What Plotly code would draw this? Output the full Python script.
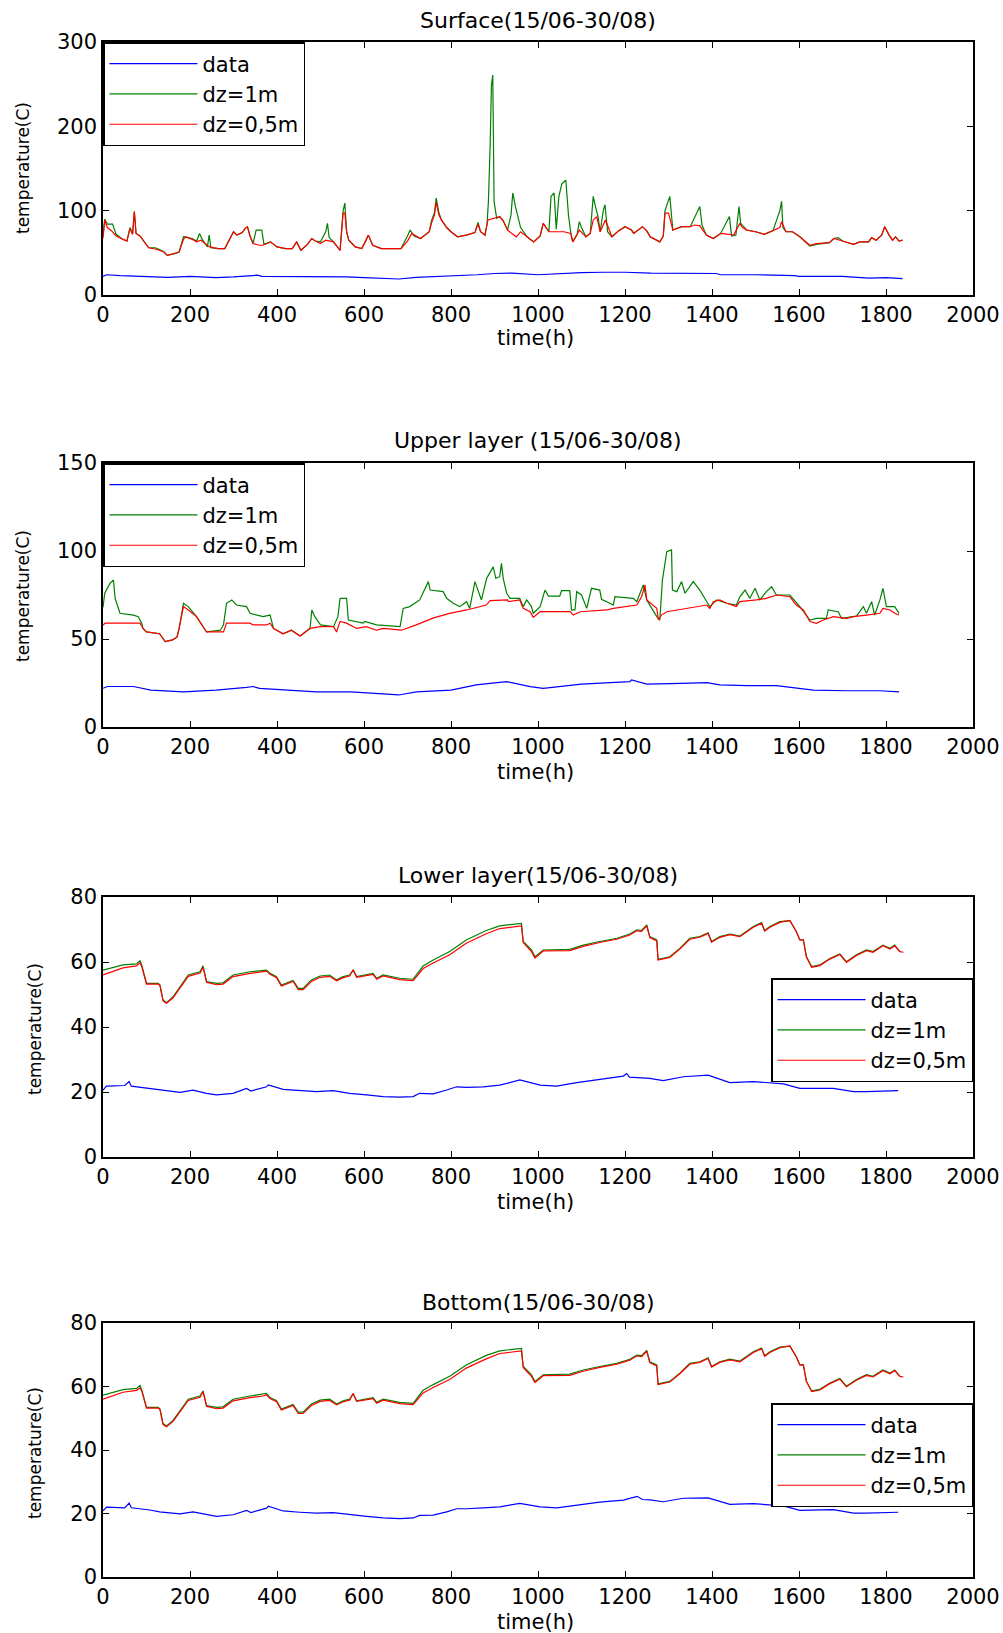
import plotly.graph_objects as go

# ---------------- DATA ----------------
tick_x = [0, 200, 400, 600, 800, 1000, 1200, 1400, 1600, 1800, 2000]
titles = ["Surface(15/06-30/08)", "Upper layer (15/06-30/08)",
          "Lower layer(15/06-30/08)", "Bottom(15/06-30/08)"]
series_names = ["data", "dz=1m", "dz=0,5m"]

# Surface
surf_data_h = [0, 8, 40, 90, 150, 200, 260, 300, 355, 365, 420, 500, 560, 600, 680, 720, 800, 860, 900, 940,
               1000, 1030, 1100, 1150, 1200, 1260, 1350, 1410, 1420, 1500, 1590, 1600, 1700, 1760, 1800, 1838]
surf_data_T = [22, 24, 23, 22, 21, 22, 20.5, 21.5, 23.5, 22, 22, 21.5, 21.5, 20.5, 19, 21, 22.5, 24, 25.5, 26,
               24, 25, 26.5, 27, 27, 26, 26, 25.5, 24, 24, 23, 22, 22, 20, 20.5, 19.5]

surf_dz1_h = [0, 4, 10, 22, 30, 45, 55, 62, 68, 72, 76, 85, 95, 105, 120, 130, 140, 148, 165, 175, 185, 205, 215,
              222, 228, 240, 244, 248, 265, 280, 295, 300, 308, 320, 327, 332, 338, 345, 352, 365, 370, 385, 400,
              420, 435, 445, 455, 470, 480, 488, 500, 512, 516, 520, 530, 545, 552, 556, 560, 565, 580, 595, 605,
              610, 620, 640, 660, 685, 700, 706, 715, 730, 750, 755, 762, 766, 772, 778, 790, 800, 815, 835, 855,
              862, 868, 878, 883, 886, 890, 893, 896, 899, 905, 912, 920, 930, 938, 942, 948, 955, 960, 975, 990,
              1005, 1012, 1025, 1030, 1037, 1042, 1048, 1055, 1064, 1070, 1075, 1080, 1090, 1095, 1100, 1110, 1120,
              1127, 1132, 1138, 1143, 1150, 1154, 1160, 1170, 1185, 1200, 1215, 1220, 1240, 1250, 1258, 1280, 1288,
              1292, 1303, 1310, 1330, 1350, 1362, 1367, 1372, 1377, 1387, 1403, 1420, 1440, 1445, 1455, 1462, 1466,
              1480, 1500, 1520, 1540, 1556, 1560, 1563, 1570, 1585, 1602, 1625, 1640, 1670, 1680, 1690, 1700, 1725,
              1740, 1760, 1767, 1777, 1790, 1797, 1807, 1815, 1822, 1830, 1838]
surf_dz1_T = [70, 90, 84, 84, 72, 66, 64, 80, 72, 99, 73, 70, 63, 56, 56, 54, 51, 47, 49, 51, 69, 67, 64,
              73, 66, 57, 71, 56, 55, 55, 70, 75, 71, 74, 79, 81, 70, 61, 77, 77, 60, 63, 57,
              55, 55, 63, 53, 60, 67, 64, 63, 75, 85, 68, 63, 53, 100, 109, 75, 65, 57, 55, 65,
              71, 59, 55, 55, 55, 70, 77, 70, 67, 75, 88, 98, 115, 98, 89, 80, 75, 69, 71, 74,
              86, 75, 71, 85, 111, 178, 249, 261, 111, 91, 93, 88, 77, 95, 121, 105, 91, 80, 69, 63,
              70, 85, 75, 117, 121, 78, 117, 132, 136, 95, 75, 63, 72, 87, 80, 69, 73,
              117, 105, 93, 75, 100, 107, 75, 69, 76, 81, 77, 73, 81, 76, 69, 63, 70,
              100, 117, 77, 81, 81, 95, 100, 105, 83, 71, 67, 73, 93, 70, 71, 105, 85,
              77, 75, 72, 76, 100, 111, 80, 75, 75, 69, 58, 60, 62, 67, 68, 64, 60,
              63, 63, 68, 65, 71, 81, 71, 65, 69, 64, 65]

surf_dz05_h = [0, 4, 10, 20, 30, 45, 55, 62, 68, 72, 76, 85, 95, 105, 125, 140, 148, 165, 175, 185, 190, 205, 215,
               225, 245, 265, 280, 295, 300, 308, 320, 327, 332, 338, 345, 360, 368, 385, 400, 420, 435, 445, 455,
               470, 480, 488, 500, 512, 530, 545, 552, 556, 560, 565, 580, 595, 605, 610, 620, 640, 660, 685, 700,
               710, 720, 730, 750, 755, 762, 766, 772, 778, 790, 800, 815, 835, 855, 862, 868, 878, 885, 900, 912,
               920, 930, 940, 950, 960, 975, 990, 1005, 1012, 1025, 1040, 1060, 1075, 1080, 1090, 1095, 1110, 1120,
               1127, 1135, 1143, 1155, 1170, 1185, 1200, 1215, 1220, 1240, 1250, 1258, 1280, 1288, 1292, 1300, 1310,
               1330, 1350, 1360, 1372, 1387, 1403, 1420, 1438, 1450, 1464, 1470, 1480, 1500, 1520, 1540, 1556, 1560,
               1570, 1585, 1602, 1625, 1640, 1670, 1680, 1700, 1725, 1740, 1760, 1767, 1777, 1790, 1797, 1807, 1815,
               1822, 1830, 1838]
surf_dz05_T = [67, 89, 80, 76, 70, 66, 64, 79, 72, 99, 73, 70, 63, 56, 54, 51, 47, 49, 51, 66, 69, 66, 63,
               65, 57, 55, 55, 70, 75, 71, 74, 79, 81, 70, 61, 59, 59, 63, 57, 55, 55, 63, 53,
               60, 67, 64, 61, 65, 63, 53, 97, 97, 75, 65, 57, 55, 65, 71, 59, 55, 55, 55, 64,
               73, 70, 67, 75, 85, 95, 110, 95, 89, 80, 75, 69, 71, 74, 84, 75, 71, 89, 91, 93,
               88, 77, 73, 69, 75, 69, 63, 70, 85, 75, 75, 75, 73, 63, 72, 77, 69, 73,
               89, 93, 75, 89, 69, 76, 81, 77, 73, 81, 76, 69, 63, 70, 97, 97, 77,
               81, 81, 83, 82, 71, 67, 73, 72, 71, 85, 80, 77, 75, 72, 76, 80, 87,
               75, 75, 69, 59, 61, 62, 67, 64, 60, 63, 63, 68, 65, 71, 81, 71, 65,
               69, 64, 65]

# Upper layer
up_data_h = [0, 10, 70, 110, 185, 260, 330, 345, 360, 414, 490, 570, 640, 680, 720, 800, 858, 900, 928, 982,
             1012, 1100, 1211, 1215, 1250, 1330, 1388, 1418, 1480, 1548, 1602, 1633, 1710, 1786, 1830]
up_data_T = [22, 23, 23, 21, 20, 21, 22.5, 23, 22, 21, 20, 20, 18.8, 18.2, 20, 21, 23.9, 24.8, 25.8, 22.9,
             22, 24.4, 25.8, 26.7, 24.4, 24.8, 25.2, 23.9, 23.5, 23.5, 22, 21, 20.6, 20.6, 20]

up_dz1_h = [0, 4, 16, 24, 28, 35, 39, 70, 81, 89, 92, 100, 130, 143, 160, 170, 175, 185, 196, 215, 227, 238, 270,
            277, 284, 296, 307, 330, 338, 368, 384, 392, 414, 433, 453, 476, 480, 487, 500, 530, 540, 545, 560,
            564, 598, 602, 629, 683, 690, 705, 728, 748, 752, 782, 790, 805, 820, 836, 843, 855, 870, 882, 897,
            903, 912, 916, 920, 928, 936, 958, 966, 974, 985, 989, 1005, 1016, 1024, 1050, 1054, 1073, 1077, 1085,
            1089, 1100, 1112, 1123, 1142, 1146, 1165, 1173, 1177, 1219, 1227, 1242, 1250, 1273, 1280, 1286, 1296,
            1307, 1309, 1319, 1330, 1338, 1357, 1372, 1388, 1395, 1411, 1434, 1456, 1464, 1476, 1487, 1499, 1510,
            1525, 1537, 1548, 1579, 1602, 1625, 1640, 1663, 1667, 1690, 1698, 1732, 1748, 1755, 1767, 1774, 1786,
            1793, 1801, 1820, 1830]
up_dz1_T = [68, 76, 81.6, 83.5, 73, 68.4, 64.6, 63.6, 62.7, 59, 56, 54, 53, 48.5, 49.5, 51, 56, 70.3, 68.4, 62.7,
            58, 54, 55, 58, 70.3, 72.2, 69.3, 68.4, 64.6, 62.7, 63.6, 56, 53, 55, 51.7, 56, 66.5, 62.7, 58, 57,
            62.7, 73.1, 73.1, 60.8, 59, 60, 58, 57, 67.4, 68.4, 72.2, 82.6, 77.8, 76.9, 73.1, 70.3, 68.4, 71.2,
            67.4, 82.6, 72.2, 84.5, 91, 84.5, 85.4, 93, 84.5, 76, 73.1, 73.1, 68.4, 72.2, 68.4, 64.6, 68.4, 77.8,
            74.4, 74.4, 77.5, 77.5, 66.5, 66.5, 76.9, 75, 67.4, 78.8, 77.8, 72.6, 70.3, 69.3, 74, 73.1, 71.2, 80.7,
            72.2, 62.7, 60.8, 83.5, 99.6, 100.6, 77.8, 76.9, 82.6, 76, 82.6, 77.8, 71.2, 68.4, 72.2, 70.3, 69.3,
            74, 77.8, 73.1, 78.8, 72.2, 76.9, 79.7, 75, 75, 68.4, 60.8, 61.7, 61.7, 66.5, 65.5, 61.7, 63, 68.4,
            64.6, 71.2, 63.6, 72.2, 78.8, 68.4, 68.4, 64.6]

up_dz05_h = [0, 5, 85, 92, 100, 130, 143, 160, 170, 175, 185, 196, 215, 227, 238, 277, 284, 338, 345, 376, 384,
             392, 414, 433, 453, 476, 500, 530, 537, 545, 560, 583, 605, 629, 645, 686, 720, 760, 797, 836, 881,
             890, 930, 932, 958, 966, 982, 989, 1000, 1005, 1074, 1081, 1097, 1158, 1173, 1227, 1238, 1246, 1250,
             1273, 1277, 1284, 1296, 1342, 1388, 1395, 1403, 1418, 1434, 1456, 1464, 1502, 1525, 1548, 1579, 1594,
             1610, 1625, 1640, 1656, 1679, 1709, 1725, 1755, 1786, 1793, 1809, 1820, 1830]
up_dz05_T = [58, 59, 59, 56, 54, 53, 48.5, 49.5, 51, 56, 68.4, 66.5, 62.7, 58, 54, 54, 59, 59, 58, 58, 59,
             56, 53, 55, 51.7, 56, 57, 57, 54, 60, 59, 56, 57, 55, 56, 55, 58, 62, 64.6, 66.5, 69.3,
             71.8, 72.2, 71.2, 72.2, 67.4, 65.5, 62.3, 64.6, 65.5, 65.5, 63.6, 65.5, 66.5, 67.4, 69.3, 74, 80.7, 72.2,
             67.4, 60.8, 63.6, 65.5, 67.4, 69.3, 67.4, 71.2, 72.2, 70.3, 68.4, 71.2, 72.2, 73.1, 75, 74, 69.3,
             66.5, 59.9, 58.9, 60.8, 62.7, 61.7, 62.7, 63.6, 64.6, 67.4, 66.5, 64.6, 63.6]

# Lower layer
low_data_h = [0, 8, 50, 60, 65, 108, 130, 177, 207, 238, 261, 299, 330, 340, 376, 380, 414, 452, 491, 529, 567,
              606, 644, 682, 713, 728, 759, 790, 813, 836, 874, 912, 958, 1005, 1043, 1089, 1142, 1196, 1204, 1210,
              1257, 1288, 1334, 1391, 1441, 1495, 1564, 1602, 1679, 1725, 1755, 1828]
low_data_T = [20.6, 21.8, 22, 23.2, 21.8, 21.1, 20.6, 19.9, 20.6, 19.6, 19.1, 19.6, 21.1, 20.3, 21.6, 22.2, 20.8,
              20.4, 20.1, 20.4, 19.6, 19.1, 18.6, 18.4, 18.6, 19.6, 19.4, 20.6, 21.6, 21.4, 21.6, 22.1, 23.7, 22.1,
              21.8, 22.9, 23.9, 24.9, 25.7, 24.6, 24.2, 23.5, 24.7, 25.2, 22.9, 23.2, 22.5, 21.1, 21.1, 20.1, 20.1,
              20.4]

low_dz1_h = [0, 46, 77, 85, 89, 100, 127, 131, 138, 146, 161, 180, 196, 223, 230, 238, 261, 276, 299, 338, 368,
             376, 384, 399, 410, 437, 449, 460, 479, 499, 521, 537, 552, 567, 575, 583, 621, 629, 644, 682, 713,
             736, 759, 797, 835, 881, 912, 962, 966, 974, 985, 993, 1012, 1073, 1104, 1142, 1181, 1211, 1227, 1238,
             1250, 1257, 1273, 1276, 1303, 1326, 1349, 1372, 1391, 1399, 1418, 1441, 1464, 1495, 1514, 1521, 1533,
             1556, 1579, 1594, 1602, 1610, 1617, 1629, 1648, 1671, 1694, 1709, 1732, 1755, 1770, 1793, 1809, 1820,
             1832]
low_dz1_T = [57.5, 59.1, 59.4, 60.4, 59.1, 53.4, 53.4, 52.9, 48.3, 47.5, 49.3, 52.9, 56, 57, 58.8, 54, 53.4,
             53.6, 56, 57, 57.5, 57.5, 56.5, 55.5, 52.9, 54.3, 51.9, 51.9, 54.5, 55.7, 56, 54.5, 55.5, 56, 57.5,
             55.5, 56.5, 55, 56, 55, 54.7, 58.8, 60.6, 63.2, 66.8, 69.7, 71.1, 71.9, 66.3, 65.2, 63.7, 61.6, 63.7,
             63.9, 65.2, 66.3, 67.3, 68.6, 69.9, 69.7, 71.4, 67.8, 66.8, 60.8, 61.6, 64.2, 67.3, 67.8, 69, 66.3,
             67.8, 68.6, 68, 70.9, 72.1, 69.7, 70.9, 72.4, 72.7, 69.3, 66.8, 66.8, 61.6, 58.6, 59.1, 61.1, 62.5,
             60.1, 62.2, 63.7, 63.2, 65.2, 64.2, 65.2, 63.2]

low_dz05_h = [0, 46, 77, 85, 89, 100, 127, 131, 138, 146, 161, 180, 196, 223, 230, 238, 261, 276, 299, 338, 368,
              376, 384, 399, 410, 437, 449, 460, 479, 499, 521, 537, 552, 567, 575, 583, 621, 629, 644, 682, 713,
              736, 759, 797, 835, 881, 912, 962, 966, 974, 985, 993, 1012, 1073, 1104, 1142, 1181, 1211, 1227, 1238,
              1250, 1257, 1273, 1276, 1303, 1326, 1349, 1372, 1391, 1399, 1418, 1441, 1464, 1495, 1514, 1521, 1533,
              1556, 1579, 1594, 1602, 1610, 1617, 1629, 1648, 1671, 1694, 1709, 1732, 1755, 1770, 1793, 1809, 1820,
              1832, 1840]
low_dz05_T = [56, 58.2, 58.8, 59.8, 58.6, 53.2, 53.2, 52.7, 48, 47.3, 49, 52.5, 55.6, 56.6, 58.4, 53.8, 53, 53.2,
              55.5, 56.5, 57, 57.2, 56.2, 55.2, 52.6, 54, 51.5, 51.5, 54, 55.3, 55.6, 54.2, 55.2, 55.7, 57.6, 55.3,
              56.2, 54.7, 55.7, 54.6, 54.3, 58, 59.7, 62.2, 65.8, 68.7, 70.3, 71.1, 66, 64.8, 63.2, 61.2, 63.4,
              63.5, 64.8, 66, 67, 68.3, 69.6, 69.4, 71.1, 67.5, 66.5, 60.6, 61.4, 64, 67, 67.6, 68.8, 66.1, 67.6,
              68.4, 67.8, 70.7, 71.9, 69.5, 70.7, 72.2, 72.8, 69.3, 66.8, 66.8, 61.6, 58.4, 58.9, 60.9, 62.3, 59.9,
              62, 63.5, 63, 65, 64, 65, 63.2, 63]

# Bottom
bot_data_h = [0, 8, 50, 60, 65, 108, 130, 177, 207, 238, 261, 299, 330, 340, 376, 380, 414, 452, 491, 529, 567,
              606, 644, 682, 713, 728, 759, 790, 813, 836, 874, 912, 958, 1005, 1043, 1089, 1142, 1196, 1228, 1240,
              1257, 1288, 1334, 1391, 1441, 1495, 1564, 1602, 1679, 1725, 1755, 1828]
bot_data_T = [20.8, 22, 21.8, 23.3, 21.8, 21.1, 20.5, 19.9, 20.5, 19.6, 19.1, 19.6, 21, 20.3, 21.7, 22.3, 20.8,
              20.4, 20.1, 20.3, 19.6, 19.1, 18.6, 18.4, 18.6, 19.4, 19.5, 20.5, 21.5, 21.5, 21.8, 22.1, 23.2, 22.1,
              21.8, 22.6, 23.6, 24.2, 25.4, 24.4, 24.3, 23.7, 24.8, 24.9, 22.9, 23.1, 22.4, 21, 21.2, 20.1, 20.1,
              20.4]

bot_dz1_h = [0, 46, 77, 85, 89, 100, 127, 131, 138, 146, 161, 180, 196, 223, 230, 238, 261, 276, 299, 338, 368,
             376, 384, 399, 410, 437, 449, 460, 479, 499, 521, 537, 552, 567, 575, 583, 621, 629, 644, 682, 713,
             736, 759, 797, 835, 881, 912, 962, 966, 974, 985, 993, 1012, 1073, 1104, 1142, 1181, 1211, 1227, 1238,
             1250, 1257, 1273, 1276, 1303, 1326, 1349, 1372, 1391, 1399, 1418, 1441, 1464, 1495, 1514, 1521, 1533,
             1556, 1579, 1594, 1602, 1610, 1617, 1629, 1648, 1671, 1694, 1709, 1732, 1755, 1770, 1793, 1809, 1820,
             1832]
bot_dz1_T = [57.3, 59, 59.4, 60.3, 59, 53.4, 53.4, 52.9, 48.3, 47.6, 49.3, 52.9, 56, 57, 58.6, 54, 53.4,
             53.6, 56, 57, 57.6, 57.8, 56.5, 55.5, 52.9, 54.3, 51.9, 51.9, 54.5, 55.7, 56, 54.5, 55.5, 56, 57.8,
             55.5, 56.5, 55, 56, 55, 54.7, 58.8, 60.6, 63.2, 66.8, 69.8, 71.2, 72, 66.3, 65.2, 63.7, 61.6, 63.7,
             63.9, 65.2, 66.3, 67.3, 68.6, 69.9, 69.7, 71.4, 67.8, 66.8, 60.8, 61.6, 64.2, 67.3, 67.8, 69, 66.3,
             67.8, 68.6, 68, 70.9, 72.1, 69.7, 70.9, 72.4, 72.7, 69.3, 66.8, 66.8, 61.6, 58.6, 59.1, 61.1, 62.5,
             60.1, 62.2, 63.7, 63.2, 65.2, 64.2, 65.2, 63.2]
bot_dz05_h = [0, 46, 77, 85, 89, 100, 127, 131, 138, 146, 161, 180, 196, 223, 230, 238, 261, 276, 299, 338, 368,
              376, 384, 399, 410, 437, 449, 460, 479, 499, 521, 537, 552, 567, 575, 583, 621, 629, 644, 682, 713,
              736, 759, 797, 835, 881, 912, 962, 966, 974, 985, 993, 1012, 1073, 1104, 1142, 1181, 1211, 1227, 1238,
              1250, 1257, 1273, 1276, 1303, 1326, 1349, 1372, 1391, 1399, 1418, 1441, 1464, 1495, 1514, 1521, 1533,
              1556, 1579, 1594, 1602, 1610, 1617, 1629, 1648, 1671, 1694, 1709, 1732, 1755, 1770, 1793, 1809, 1820,
              1832, 1840]
bot_dz05_T = [56, 58.2, 58.8, 59.6, 58.6, 53.2, 53.2, 52.7, 48, 47.3, 49, 52.5, 55.6, 56.6, 58.4, 53.8, 53, 53.2,
              55.5, 56.5, 57, 57.4, 56.2, 55.2, 52.6, 54, 51.5, 51.5, 54, 55.3, 55.6, 54.2, 55.2, 55.7, 57.8, 55.3,
              56.2, 54.7, 55.7, 54.6, 54.3, 58, 59.7, 62.2, 65.8, 68.7, 70.4, 71.2, 66, 64.8, 63.2, 61.2, 63.4,
              63.5, 64.8, 66, 67, 68.3, 69.6, 69.4, 71.1, 67.5, 66.5, 60.6, 61.4, 64, 67, 67.6, 68.8, 66.1, 67.6,
              68.4, 67.8, 70.7, 71.9, 69.5, 70.7, 72.2, 72.8, 69.3, 66.8, 66.8, 61.6, 58.4, 58.9, 60.9, 62.3, 59.9,
              62, 63.5, 63, 65, 64, 65, 63.2, 63]

y_ranges = [[0, 300], [0, 150], [0, 80], [0, 80]]
y_ticks = [[0, 100, 200, 300], [0, 50, 100, 150], [0, 20, 40, 60, 80], [0, 20, 40, 60, 80]]

# ---------------- FIGURE ----------------
W, H = 1003, 1633
FONT = "DejaVu Sans"
colors = ["#0000ff", "#008000", "#ff0000"]

panels = [
    [(surf_data_h, surf_data_T), (surf_dz1_h, surf_dz1_T), (surf_dz05_h, surf_dz05_T)],
    [(up_data_h, up_data_T), (up_dz1_h, up_dz1_T), (up_dz05_h, up_dz05_T)],
    [(low_data_h, low_data_T), (low_dz1_h, low_dz1_T), (low_dz05_h, low_dz05_T)],
    [(bot_data_h, bot_data_T), (bot_dz1_h, bot_dz1_T), (bot_dz05_h, bot_dz05_T)],
]

# screen-pixel layout of each axes box (top, bottom)
boxes = [(42, 295), (463, 727), (897, 1157), (1323, 1577)]
x_left, x_right = 103, 973
title_y = [20, 440, 875, 1302]
xlabel_y = [338, 772, 1202, 1622]
ylabel_pos = [(23, 168), (23, 596), (35, 1029), (35, 1453)]
legend_pos = [(103, 42, "left"), (103, 463, "left"), (973, 978, "right"), (973, 1403, "right")]

def px(x):
    return x / W

def py(y):
    return 1 - y / H

fig = go.Figure()
layout = dict(
    template="none",
    width=W, height=H, margin=dict(l=0, r=0, t=0, b=0, autoexpand=False),
    paper_bgcolor="white", plot_bgcolor="white",
    font=dict(family=FONT, size=20, color="black"),
    annotations=[],
)

for i, panel in enumerate(panels):
    n = i + 1
    xa = "x" if n == 1 else f"x{n}"
    ya = "y" if n == 1 else f"y{n}"
    lg = "legend" if n == 1 else f"legend{n}"
    for j, (hx, ty) in enumerate(panel):
        fig.add_trace(go.Scatter(
            x=hx, y=ty, mode="lines", name=series_names[j],
            line=dict(color=colors[j], width=1.2),
            xaxis=xa, yaxis=ya, legend=lg, showlegend=True,
        ))
    top, bot = boxes[i]
    axcommon = dict(showline=True, linecolor="black", linewidth=1.5, mirror="ticks",
                    ticks="inside", ticklen=6, tickwidth=1.3, tickcolor="black",
                    showgrid=False, zeroline=False, automargin=False,
                    tickfont=dict(family=FONT, size=21, color="black"))
    layout["xaxis" if n == 1 else f"xaxis{n}"] = dict(
        domain=[px(x_left), px(x_right)], anchor=ya, range=[0, 2000],
        tickvals=tick_x, ticktext=[str(v) for v in tick_x], **axcommon)
    layout["yaxis" if n == 1 else f"yaxis{n}"] = dict(
        domain=[py(bot), py(top)], anchor=xa, range=y_ranges[i],
        tickvals=y_ticks[i], ticktext=[str(v) for v in y_ticks[i]], **axcommon)
    lx, ly, side = legend_pos[i]
    layout[lg] = dict(
        x=px(lx), y=py(ly), xanchor=side, yanchor="top", xref="paper", yref="paper",
        bgcolor="white", bordercolor="black", borderwidth=1.5,
        font=dict(family=FONT, size=21, color="black"),
        itemwidth=88, tracegroupgap=0, itemclick=False,
    )
    layout["annotations"].append(dict(
        text=titles[i], x=px((x_left + x_right) / 2), y=py(title_y[i]), xref="paper", yref="paper",
        xanchor="center", yanchor="middle", showarrow=False,
        font=dict(family=FONT, size=22, color="black")))
    layout["annotations"].append(dict(
        text="time(h)", x=px(535), y=py(xlabel_y[i]), xref="paper", yref="paper",
        xanchor="center", yanchor="middle", showarrow=False,
        font=dict(family=FONT, size=21, color="black")))
    yx, yy = ylabel_pos[i]
    layout["annotations"].append(dict(
        text="temperature(C)", x=px(yx), y=py(yy), xref="paper", yref="paper",
        xanchor="center", yanchor="middle", showarrow=False, textangle=-90,
        font=dict(family=FONT, size=17, color="black")))

fig.update_layout(**layout)
fig.write_html(
    "out.html",
    config={"displayModeBar": False},
    post_script="document.body.style.margin='0';document.body.style.overflow='hidden';",
)
